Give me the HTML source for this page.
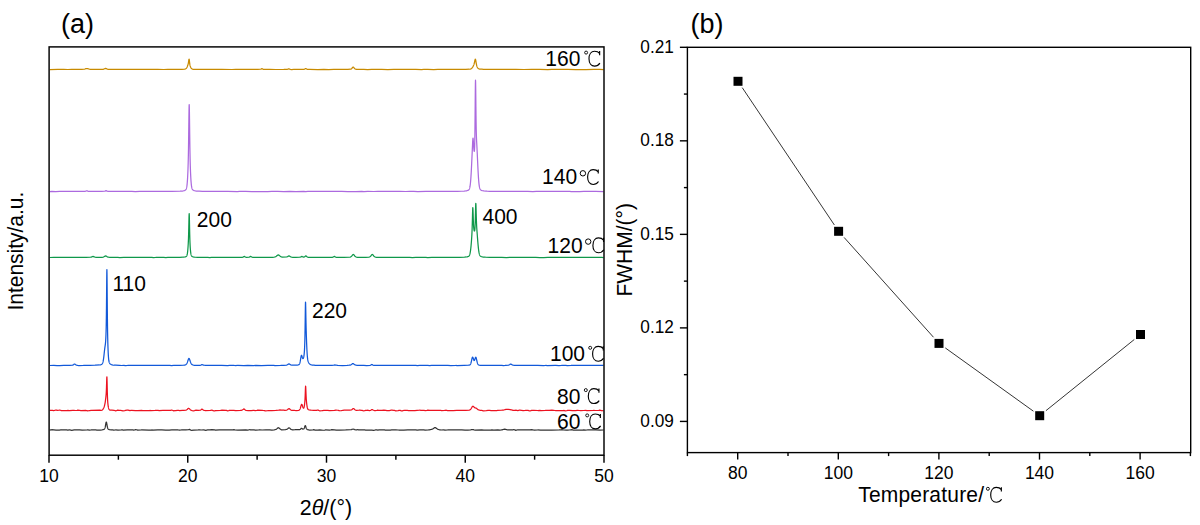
<!DOCTYPE html>
<html><head><meta charset="utf-8"><style>
html,body{margin:0;padding:0;background:#fff;}
svg{display:block;}
text{font-family:"Liberation Sans",sans-serif;fill:#000;}
</style></head><body>
<svg width="1200" height="525" viewBox="0 0 1200 525">
<rect width="1200" height="525" fill="#fff"/>
<!-- panel a -->
<text x="61" y="33" font-size="27">(a)</text>
<g fill="none" stroke-width="1.25" stroke-linejoin="round">
<path d="M49.80,69.55 L57.80,69.45 L63.80,69.44 L67.80,69.50 L71.80,69.45 L77.80,69.41 L81.80,69.42 L84.10,69.25 L84.70,69.08 L85.20,68.91 L85.70,68.72 L86.30,68.55 L86.80,68.50 L87.80,68.67 L88.30,68.85 L88.80,69.02 L89.40,69.19 L90.30,69.34 L95.80,69.44 L103.10,69.29 L103.70,69.14 L104.20,68.95 L104.60,68.77 L105.00,68.59 L105.60,68.45 L106.30,68.63 L106.70,68.81 L107.10,68.99 L107.50,69.14 L108.10,69.29 L110.20,69.45 L113.80,69.49 L117.80,69.49 L123.80,69.45 L127.80,69.48 L131.80,69.49 L139.80,69.43 L143.80,69.48 L147.80,69.44 L157.80,69.44 L163.80,69.50 L167.80,69.45 L175.80,69.41 L181.80,69.32 L184.70,69.17 L185.30,69.01 L185.70,68.82 L186.00,68.61 L186.20,68.43 L186.30,68.33 L186.40,68.21 L186.50,68.08 L186.60,67.94 L186.70,67.78 L186.80,67.61 L186.90,67.43 L187.00,67.23 L187.10,67.02 L187.20,66.79 L187.30,66.56 L187.40,66.31 L187.50,66.05 L187.60,65.78 L187.70,65.50 L187.80,65.20 L187.90,64.89 L188.00,64.56 L188.10,64.19 L188.20,63.79 L188.30,63.33 L188.40,62.81 L188.50,62.22 L188.60,61.57 L188.70,60.88 L188.80,60.21 L188.90,59.62 L189.00,59.24 L189.10,59.17 L189.20,59.46 L189.30,60.06 L189.40,60.85 L189.50,61.72 L189.60,62.57 L189.70,63.36 L189.80,64.05 L189.90,64.66 L190.00,65.18 L190.10,65.62 L190.20,66.00 L190.30,66.33 L190.40,66.62 L190.50,66.88 L190.60,67.12 L190.70,67.34 L190.80,67.54 L190.90,67.73 L191.00,67.89 L191.10,68.05 L191.20,68.19 L191.30,68.31 L191.40,68.43 L191.60,68.62 L191.80,68.77 L192.10,68.95 L192.50,69.11 L193.20,69.27 L196.10,69.42 L199.80,69.45 L201.80,69.45 L205.80,69.37 L211.80,69.44 L217.80,69.40 L221.80,69.46 L231.80,69.50 L235.80,69.42 L239.80,69.45 L243.80,69.45 L253.80,69.47 L257.80,69.43 L260.50,69.25 L260.90,69.09 L261.20,68.93 L261.50,68.78 L261.90,68.68 L262.40,68.84 L262.70,69.00 L263.00,69.15 L263.40,69.30 L265.80,69.42 L269.80,69.46 L275.80,69.50 L283.80,69.43 L287.50,69.26 L288.00,69.10 L288.50,68.93 L288.90,68.86 L289.50,69.03 L289.90,69.20 L290.40,69.36 L291.50,69.51 L293.80,69.47 L295.80,69.47 L303.90,69.31 L304.50,69.15 L304.90,68.95 L305.20,68.77 L305.50,68.60 L305.80,68.54 L306.30,68.72 L306.60,68.92 L306.90,69.09 L307.30,69.27 L308.10,69.42 L309.80,69.45 L317.80,69.51 L323.80,69.45 L328.80,69.53 L333.80,69.47 L341.80,69.46 L347.80,69.38 L350.50,69.23 L351.00,69.06 L351.30,68.90 L351.60,68.67 L351.70,68.58 L351.80,68.48 L351.90,68.37 L352.00,68.25 L352.10,68.13 L352.20,68.01 L352.30,67.87 L352.40,67.74 L352.50,67.61 L352.60,67.48 L352.70,67.35 L352.90,67.15 L353.20,67.03 L353.60,67.26 L353.70,67.37 L353.80,67.50 L353.90,67.63 L354.00,67.77 L354.10,67.90 L354.20,68.04 L354.30,68.17 L354.40,68.29 L354.50,68.41 L354.60,68.52 L354.80,68.71 L355.00,68.87 L355.30,69.06 L355.70,69.22 L356.60,69.37 L363.80,69.44 L367.60,69.59 L371.80,69.45 L377.80,69.46 L381.80,69.47 L387.80,69.51 L393.80,69.47 L397.80,69.46 L403.80,69.46 L411.80,69.49 L415.80,69.41 L421.50,69.56 L423.80,69.42 L427.80,69.45 L433.80,69.51 L437.80,69.47 L445.80,69.48 L449.80,69.45 L455.80,69.47 L465.80,69.40 L469.40,69.24 L470.30,69.06 L470.80,68.89 L471.20,68.68 L471.50,68.47 L471.70,68.30 L471.90,68.10 L472.00,68.00 L472.10,67.89 L472.20,67.77 L472.30,67.64 L472.40,67.51 L472.50,67.37 L472.60,67.22 L472.70,67.06 L472.80,66.90 L472.90,66.73 L473.00,66.55 L473.10,66.37 L473.20,66.18 L473.30,65.98 L473.40,65.77 L473.50,65.55 L473.60,65.32 L473.70,65.08 L473.80,64.82 L473.90,64.54 L474.00,64.23 L474.10,63.90 L474.20,63.55 L474.30,63.16 L474.40,62.75 L474.50,62.31 L474.60,61.85 L474.70,61.38 L474.80,60.90 L474.90,60.43 L475.00,60.00 L475.10,59.64 L475.20,59.36 L475.30,59.22 L475.40,59.23 L475.50,59.40 L475.60,59.72 L475.70,60.16 L475.80,60.68 L475.90,61.27 L476.00,61.88 L476.10,62.49 L476.20,63.08 L476.30,63.64 L476.40,64.17 L476.50,64.65 L476.60,65.09 L476.70,65.49 L476.80,65.85 L476.90,66.17 L477.00,66.46 L477.10,66.71 L477.20,66.95 L477.30,67.16 L477.40,67.35 L477.50,67.52 L477.60,67.68 L477.70,67.83 L477.80,67.97 L477.90,68.08 L478.00,68.19 L478.20,68.39 L478.40,68.55 L478.70,68.74 L479.10,68.92 L479.70,69.08 L481.90,69.24 L483.50,69.39 L489.80,69.49 L491.80,69.49 L495.80,69.47 L499.80,69.43 L503.80,69.46 L511.80,69.46 L515.80,69.47 L523.80,69.50 L531.80,69.43 L539.80,69.46 L547.80,69.51 L551.80,69.47 L555.80,69.48 L567.80,69.48 L575.80,69.51 L579.80,69.50 L585.80,69.50 L593.80,69.42 L599.80,69.48 L603.50,69.54" stroke="#C88A00"/>
<path d="M49.80,191.62 L51.80,191.47 L55.80,191.51 L59.80,191.43 L65.80,191.45 L73.80,191.45 L79.80,191.33 L81.30,191.49 L85.00,191.34 L85.60,191.19 L86.00,191.03 L86.40,190.86 L86.80,190.79 L87.40,190.97 L87.80,191.16 L88.30,191.32 L90.20,191.47 L93.80,191.45 L97.80,191.41 L101.80,191.41 L104.60,191.25 L105.00,191.10 L105.40,190.90 L105.80,190.73 L106.00,190.70 L106.60,190.90 L106.90,191.06 L107.30,191.23 L108.00,191.39 L113.80,191.31 L115.60,191.47 L119.80,191.47 L123.80,191.44 L127.80,191.39 L131.80,191.41 L135.30,191.56 L139.80,191.49 L141.30,191.49 L143.80,191.41 L149.80,191.38 L153.80,191.39 L157.80,191.42 L165.80,191.37 L169.30,191.43 L171.80,191.37 L180.00,191.22 L182.30,191.06 L183.20,190.90 L183.80,190.74 L184.40,190.57 L184.80,190.42 L185.10,190.27 L185.40,190.07 L185.60,189.90 L185.70,189.79 L185.80,189.68 L185.90,189.54 L186.00,189.38 L186.10,189.19 L186.20,188.98 L186.30,188.73 L186.40,188.43 L186.50,188.08 L186.60,187.67 L186.70,187.19 L186.80,186.63 L186.90,185.97 L187.00,185.21 L187.10,184.32 L187.20,183.31 L187.30,182.15 L187.40,180.83 L187.50,179.35 L187.60,177.69 L187.70,175.83 L187.80,173.76 L187.90,171.44 L188.00,168.83 L188.10,165.84 L188.20,162.38 L188.30,158.32 L188.40,153.53 L188.50,147.90 L188.60,141.40 L188.70,134.10 L188.80,126.27 L188.90,118.42 L189.00,111.40 L189.10,106.39 L189.20,104.55 L189.30,106.40 L189.40,111.42 L189.50,118.45 L189.60,126.31 L189.70,134.15 L189.80,141.46 L189.90,147.96 L190.00,153.59 L190.10,158.38 L190.20,162.44 L190.30,165.90 L190.40,168.89 L190.50,171.50 L190.60,173.82 L190.70,175.88 L190.80,177.73 L190.90,179.39 L191.00,180.86 L191.10,182.17 L191.20,183.32 L191.30,184.33 L191.40,185.20 L191.50,185.96 L191.60,186.61 L191.70,187.17 L191.80,187.64 L191.90,188.04 L192.00,188.39 L192.10,188.68 L192.20,188.92 L192.30,189.14 L192.40,189.32 L192.50,189.47 L192.60,189.61 L192.70,189.72 L192.90,189.92 L193.10,190.07 L193.40,190.26 L193.80,190.44 L194.20,190.60 L194.70,190.76 L195.40,190.92 L196.50,191.08 L199.10,191.23 L202.50,191.38 L205.80,191.30 L211.30,191.45 L215.80,191.40 L219.80,191.47 L227.80,191.46 L237.20,191.52 L239.80,191.47 L245.80,191.43 L251.80,191.51 L259.80,191.56 L263.80,191.51 L267.80,191.51 L271.80,191.47 L277.80,191.49 L283.80,191.50 L289.80,191.44 L295.80,191.53 L303.80,191.42 L305.80,191.57 L307.80,191.45 L311.80,191.44 L319.80,191.46 L329.80,191.46 L333.80,191.47 L341.80,191.46 L347.80,191.51 L355.80,191.51 L361.80,191.36 L364.00,191.51 L367.80,191.44 L373.80,191.50 L377.80,191.44 L385.80,191.45 L393.80,191.48 L399.80,191.46 L405.80,191.50 L409.80,191.44 L413.80,191.47 L417.80,191.51 L425.80,191.43 L429.80,191.47 L433.80,191.42 L437.80,191.48 L445.80,191.34 L451.80,191.40 L455.80,191.38 L457.50,191.40 L461.60,191.25 L464.00,191.10 L465.60,190.94 L466.40,190.78 L467.00,190.62 L467.50,190.46 L467.90,190.31 L468.30,190.13 L468.60,189.94 L468.80,189.77 L468.90,189.66 L469.00,189.54 L469.10,189.39 L469.20,189.22 L469.30,189.03 L469.40,188.80 L469.50,188.54 L469.60,188.23 L469.70,187.88 L469.80,187.47 L469.90,187.00 L470.00,186.46 L470.10,185.84 L470.20,185.14 L470.30,184.36 L470.40,183.48 L470.50,182.51 L470.60,181.43 L470.70,180.24 L470.80,178.94 L470.90,177.54 L471.00,176.03 L471.10,174.41 L471.20,172.69 L471.30,170.88 L471.40,168.99 L471.50,167.03 L471.60,165.00 L471.70,162.93 L471.80,160.82 L471.90,158.68 L472.00,156.51 L472.10,154.32 L472.20,152.10 L472.30,149.87 L472.40,147.63 L472.50,145.42 L472.60,143.29 L472.70,141.33 L472.80,139.68 L472.90,138.53 L473.00,138.07 L473.10,138.35 L473.20,139.28 L473.30,140.66 L473.40,142.27 L473.50,143.94 L473.60,145.56 L473.70,147.06 L473.80,148.38 L473.90,149.51 L474.00,150.41 L474.10,151.06 L474.20,151.41 L474.30,151.40 L474.40,150.92 L474.50,149.78 L474.60,147.75 L474.70,144.53 L474.80,139.80 L474.90,133.28 L475.00,124.87 L475.10,114.76 L475.20,103.60 L475.30,92.70 L475.40,84.13 L475.50,80.18 L475.60,81.95 L475.70,88.42 L475.80,97.36 L475.90,106.76 L476.00,115.39 L476.10,122.65 L476.20,128.39 L476.30,132.76 L476.40,136.05 L476.50,138.59 L476.60,140.70 L476.70,142.59 L476.80,144.43 L476.90,146.30 L477.00,148.24 L477.10,150.26 L477.20,152.36 L477.30,154.52 L477.40,156.72 L477.50,158.93 L477.60,161.14 L477.70,163.33 L477.80,165.48 L477.90,167.56 L478.00,169.57 L478.10,171.50 L478.20,173.32 L478.30,175.04 L478.40,176.64 L478.50,178.13 L478.60,179.51 L478.70,180.77 L478.80,181.91 L478.90,182.95 L479.00,183.88 L479.10,184.71 L479.20,185.45 L479.30,186.10 L479.40,186.68 L479.50,187.18 L479.60,187.63 L479.70,188.01 L479.80,188.35 L479.90,188.63 L480.00,188.88 L480.10,189.09 L480.20,189.28 L480.30,189.44 L480.40,189.58 L480.50,189.70 L480.70,189.90 L480.90,190.05 L481.20,190.23 L481.60,190.41 L482.10,190.57 L482.80,190.74 L483.70,190.89 L486.00,191.05 L487.10,191.21 L489.60,191.36 L497.80,191.38 L503.80,191.40 L515.80,191.38 L523.80,191.41 L527.80,191.43 L532.80,191.52 L536.30,191.45 L537.80,191.44 L543.80,191.47 L547.80,191.46 L553.80,191.46 L557.80,191.43 L563.80,191.47 L569.80,191.39 L571.10,191.55 L573.80,191.53 L579.80,191.51 L583.80,191.41 L587.80,191.48 L595.80,191.43 L603.50,191.54" stroke="#AC6ADF"/>
<path d="M49.80,257.50 L53.80,257.45 L59.80,257.48 L65.80,257.49 L71.80,257.49 L75.80,257.44 L85.80,257.39 L90.70,257.22 L91.30,257.05 L91.70,256.89 L92.10,256.72 L92.50,256.57 L93.00,256.48 L93.70,256.65 L94.10,256.81 L94.50,256.96 L95.10,257.13 L96.10,257.29 L99.80,257.43 L102.60,257.27 L103.20,257.11 L103.60,256.95 L104.00,256.76 L104.30,256.58 L104.60,256.39 L104.90,256.21 L105.20,256.05 L105.60,255.97 L106.20,256.14 L106.50,256.32 L106.80,256.50 L107.10,256.67 L107.50,256.86 L108.00,257.05 L108.60,257.21 L109.70,257.36 L111.80,257.34 L115.20,257.49 L117.80,257.37 L119.80,257.53 L123.80,257.48 L137.80,257.45 L141.80,257.46 L145.80,257.40 L149.20,257.44 L151.80,257.39 L153.40,257.55 L155.60,257.39 L155.80,257.37 L159.80,257.46 L163.80,257.39 L165.80,257.54 L167.80,257.45 L171.80,257.44 L173.30,257.48 L175.80,257.39 L179.80,257.40 L182.80,257.24 L183.60,257.08 L185.10,256.92 L185.70,256.77 L186.00,256.62 L186.30,256.39 L186.40,256.29 L186.50,256.17 L186.60,256.03 L186.70,255.86 L186.80,255.66 L186.90,255.42 L187.00,255.13 L187.10,254.79 L187.20,254.38 L187.30,253.89 L187.40,253.31 L187.50,252.64 L187.60,251.86 L187.70,250.96 L187.80,249.95 L187.90,248.80 L188.00,247.51 L188.10,246.07 L188.20,244.46 L188.30,242.61 L188.40,240.46 L188.50,237.90 L188.60,234.81 L188.70,231.13 L188.80,226.90 L188.90,222.34 L189.00,217.98 L189.10,214.72 L189.20,213.66 L189.30,215.34 L189.40,219.19 L189.50,224.04 L189.60,228.99 L189.70,233.50 L189.80,237.35 L189.90,240.51 L190.00,243.06 L190.10,245.14 L190.20,246.86 L190.30,248.32 L190.40,249.57 L190.50,250.66 L190.60,251.60 L190.70,252.41 L190.80,253.11 L190.90,253.71 L191.00,254.22 L191.10,254.64 L191.20,255.00 L191.30,255.30 L191.40,255.54 L191.50,255.75 L191.60,255.93 L191.70,256.07 L191.80,256.20 L192.00,256.39 L192.30,256.59 L192.70,256.77 L193.20,256.92 L194.00,257.08 L194.90,257.25 L197.80,257.38 L207.80,257.43 L209.80,257.58 L211.40,257.43 L213.80,257.30 L215.60,257.46 L217.80,257.48 L221.80,257.48 L229.10,257.49 L229.80,257.47 L237.80,257.43 L242.60,257.26 L243.00,257.09 L243.30,256.91 L243.60,256.71 L243.90,256.52 L244.20,256.44 L244.70,256.62 L245.00,256.81 L245.30,256.98 L245.70,257.14 L246.40,257.31 L249.20,257.14 L249.60,256.94 L249.90,256.74 L250.20,256.56 L250.60,256.43 L251.10,256.61 L251.40,256.81 L251.70,256.98 L252.10,257.16 L252.90,257.32 L256.50,257.47 L261.80,257.40 L265.80,257.46 L272.70,257.31 L274.10,257.16 L274.80,256.99 L275.30,256.81 L275.70,256.62 L276.00,256.43 L276.30,256.22 L276.50,256.06 L276.70,255.90 L276.90,255.73 L277.10,255.56 L277.30,255.40 L277.50,255.24 L277.80,255.05 L278.30,254.94 L278.80,255.10 L279.10,255.29 L279.30,255.44 L279.50,255.61 L279.70,255.78 L279.90,255.95 L280.10,256.11 L280.30,256.26 L280.60,256.47 L280.90,256.65 L281.20,256.80 L281.60,256.97 L282.20,257.13 L286.80,256.94 L287.20,256.77 L287.50,256.60 L287.80,256.42 L288.10,256.22 L288.40,256.05 L288.90,255.91 L289.50,256.10 L289.80,256.28 L290.10,256.48 L290.40,256.66 L290.70,256.82 L291.10,256.99 L291.70,257.16 L292.90,257.32 L295.80,257.37 L299.80,257.22 L300.50,257.05 L300.90,256.85 L301.20,256.67 L301.50,256.50 L301.80,256.44 L302.30,256.61 L302.60,256.79 L302.90,256.95 L303.40,257.10 L304.40,256.93 L304.70,256.72 L304.90,256.55 L305.10,256.36 L305.30,256.17 L305.50,256.00 L305.80,255.89 L306.20,256.07 L306.40,256.25 L306.60,256.44 L306.80,256.62 L307.00,256.78 L307.30,256.96 L307.70,257.11 L308.40,257.27 L309.80,257.42 L313.80,257.43 L317.80,257.45 L321.80,257.43 L325.80,257.46 L332.30,257.31 L332.90,257.13 L333.30,256.92 L333.60,256.73 L333.90,256.53 L334.30,256.42 L334.80,256.61 L335.10,256.81 L335.40,256.99 L335.80,257.18 L336.50,257.33 L343.80,257.41 L349.40,257.25 L350.20,257.07 L350.60,256.92 L350.90,256.76 L351.20,256.55 L351.40,256.38 L351.50,256.29 L351.60,256.19 L351.70,256.08 L351.80,255.97 L351.90,255.85 L352.00,255.72 L352.10,255.60 L352.20,255.47 L352.30,255.34 L352.40,255.21 L352.50,255.08 L352.60,254.96 L352.70,254.84 L352.90,254.64 L353.20,254.48 L353.30,254.47 L353.70,254.64 L353.80,254.73 L353.90,254.84 L354.00,254.96 L354.10,255.09 L354.20,255.22 L354.30,255.35 L354.40,255.49 L354.50,255.62 L354.60,255.75 L354.70,255.87 L354.80,255.99 L354.90,256.11 L355.00,256.22 L355.20,256.42 L355.40,256.60 L355.70,256.81 L356.00,256.97 L356.50,257.14 L357.50,257.30 L359.80,257.34 L365.80,257.35 L369.00,257.18 L369.50,257.02 L369.90,256.81 L370.20,256.59 L370.40,256.42 L370.50,256.32 L370.60,256.22 L370.70,256.11 L370.80,255.99 L370.90,255.87 L371.00,255.74 L371.10,255.61 L371.20,255.48 L371.30,255.34 L371.40,255.21 L371.50,255.08 L371.60,254.95 L371.70,254.83 L371.90,254.63 L372.20,254.47 L372.30,254.46 L372.70,254.65 L372.80,254.74 L372.90,254.85 L373.00,254.97 L373.10,255.09 L373.20,255.22 L373.30,255.36 L373.40,255.49 L373.50,255.62 L373.60,255.75 L373.70,255.87 L373.80,255.99 L373.90,256.11 L374.00,256.22 L374.20,256.41 L374.40,256.58 L374.70,256.80 L375.00,256.96 L375.40,257.11 L376.20,257.26 L379.70,257.42 L383.80,257.38 L391.80,257.42 L395.80,257.45 L403.80,257.46 L409.80,257.45 L412.30,257.51 L415.80,257.48 L419.80,257.49 L425.80,257.37 L427.70,257.53 L431.80,257.47 L435.80,257.39 L439.80,257.43 L445.80,257.47 L449.80,257.42 L455.80,257.40 L459.80,257.31 L464.50,257.15 L466.50,256.99 L467.20,256.84 L467.80,256.66 L468.30,256.50 L468.60,256.34 L468.80,256.19 L468.90,256.10 L469.00,255.99 L469.10,255.87 L469.20,255.73 L469.30,255.56 L469.40,255.38 L469.50,255.16 L469.60,254.92 L469.70,254.64 L469.80,254.32 L469.90,253.96 L470.00,253.55 L470.10,253.09 L470.20,252.58 L470.30,252.01 L470.40,251.39 L470.50,250.70 L470.60,249.96 L470.70,249.15 L470.80,248.27 L470.90,247.33 L471.00,246.33 L471.10,245.27 L471.20,244.14 L471.30,242.96 L471.40,241.72 L471.50,240.41 L471.60,239.02 L471.70,237.54 L471.80,235.92 L471.90,234.10 L472.00,232.00 L472.10,229.53 L472.20,226.62 L472.30,223.25 L472.40,219.48 L472.50,215.52 L472.60,211.78 L472.70,208.90 L472.80,207.59 L472.90,208.18 L473.00,210.33 L473.10,213.35 L473.20,216.58 L473.30,219.62 L473.40,222.26 L473.50,224.43 L473.60,226.15 L473.70,227.47 L473.80,228.49 L473.90,229.28 L474.00,229.90 L474.10,230.37 L474.20,230.72 L474.30,230.95 L474.50,231.03 L474.60,230.85 L474.70,230.47 L474.80,229.83 L474.90,228.86 L475.00,227.46 L475.10,225.52 L475.20,222.95 L475.30,219.73 L475.40,215.93 L475.50,211.79 L475.60,207.80 L475.70,204.71 L475.80,203.34 L475.90,204.10 L476.00,206.62 L476.10,210.10 L476.20,213.84 L476.30,217.36 L476.40,220.46 L476.50,223.08 L476.60,225.24 L476.70,227.05 L476.80,228.61 L476.90,230.02 L477.00,231.35 L477.10,232.65 L477.20,233.95 L477.30,235.24 L477.40,236.54 L477.50,237.83 L477.60,239.11 L477.70,240.38 L477.80,241.61 L477.90,242.82 L478.00,243.97 L478.10,245.09 L478.20,246.14 L478.30,247.14 L478.40,248.08 L478.50,248.96 L478.60,249.77 L478.70,250.52 L478.80,251.21 L478.90,251.84 L479.00,252.41 L479.10,252.93 L479.20,253.39 L479.30,253.80 L479.40,254.17 L479.50,254.50 L479.60,254.78 L479.70,255.04 L479.80,255.26 L479.90,255.45 L480.00,255.62 L480.10,255.77 L480.20,255.90 L480.40,256.11 L480.60,256.26 L480.90,256.44 L481.30,256.59 L481.90,256.74 L482.50,256.90 L483.20,257.05 L485.50,257.20 L489.60,257.35 L493.80,257.34 L497.80,257.43 L501.80,257.37 L506.30,257.52 L511.80,257.44 L519.80,257.41 L525.80,257.48 L529.80,257.44 L535.80,257.49 L539.80,257.51 L543.80,257.51 L547.80,257.48 L553.80,257.48 L557.80,257.46 L561.80,257.46 L575.80,257.45 L581.80,257.45 L587.80,257.45 L591.80,257.43 L597.80,257.42 L601.80,257.43 L603.50,257.52" stroke="#0F984A"/>
<path d="M49.80,365.50 L53.80,365.46 L57.00,365.55 L59.80,365.52 L63.80,365.41 L69.80,365.38 L72.40,365.21 L72.90,365.04 L73.20,364.88 L73.50,364.67 L73.70,364.52 L73.90,364.36 L74.10,364.20 L74.40,364.04 L74.60,364.01 L75.10,364.21 L75.30,364.36 L75.50,364.53 L75.70,364.69 L76.00,364.90 L76.30,365.07 L76.70,365.22 L77.50,365.38 L78.90,365.53 L83.30,365.37 L83.80,365.32 L89.80,365.39 L95.00,365.23 L95.80,365.14 L99.60,364.99 L100.40,364.82 L101.00,364.64 L101.40,364.47 L101.70,364.30 L102.00,364.06 L102.10,363.96 L102.20,363.84 L102.30,363.70 L102.40,363.54 L102.50,363.36 L102.60,363.14 L102.70,362.89 L102.80,362.60 L102.90,362.27 L103.00,361.89 L103.10,361.46 L103.20,360.97 L103.30,360.43 L103.40,359.83 L103.50,359.18 L103.60,358.47 L103.70,357.70 L103.80,356.89 L103.90,356.04 L104.00,355.15 L104.10,354.23 L104.20,353.30 L104.30,352.37 L104.40,351.45 L104.50,350.55 L104.60,349.69 L104.70,348.88 L104.80,348.11 L104.90,347.39 L105.00,346.71 L105.10,346.05 L105.20,345.37 L105.30,344.65 L105.40,343.82 L105.50,342.85 L105.60,341.69 L105.70,340.29 L105.80,338.59 L105.90,336.54 L106.00,334.02 L106.10,330.87 L106.20,326.78 L106.30,321.34 L106.40,314.12 L106.50,304.89 L106.60,293.93 L106.70,282.46 L106.80,273.09 L106.90,269.55 L107.00,273.90 L107.10,284.09 L107.20,296.40 L107.30,308.20 L107.40,318.28 L107.50,326.37 L107.60,332.69 L107.70,337.68 L107.80,341.73 L107.90,345.12 L108.00,348.04 L108.10,350.56 L108.20,352.75 L108.30,354.62 L108.40,356.22 L108.50,357.56 L108.60,358.68 L108.70,359.60 L108.80,360.36 L108.90,360.99 L109.00,361.50 L109.10,361.92 L109.20,362.27 L109.30,362.56 L109.40,362.80 L109.50,363.00 L109.60,363.18 L109.70,363.33 L109.80,363.47 L109.90,363.59 L110.00,363.71 L110.20,363.90 L110.40,364.06 L110.70,364.27 L111.00,364.43 L111.40,364.60 L111.90,364.78 L112.40,364.93 L113.00,365.08 L113.80,365.24 L115.80,365.19 L119.40,365.34 L121.60,365.50 L123.80,365.38 L125.50,365.54 L127.50,365.39 L127.80,365.36 L129.10,365.37 L133.80,365.40 L142.90,365.47 L143.80,365.47 L149.80,365.47 L153.80,365.42 L161.80,365.44 L169.80,365.39 L171.50,365.55 L173.80,365.41 L179.80,365.37 L183.70,365.21 L184.70,365.05 L185.30,364.88 L185.70,364.69 L186.00,364.48 L186.20,364.30 L186.30,364.19 L186.40,364.07 L186.50,363.95 L186.60,363.81 L186.70,363.65 L186.80,363.48 L186.90,363.30 L187.00,363.11 L187.10,362.90 L187.20,362.67 L187.30,362.43 L187.40,362.17 L187.50,361.91 L187.60,361.62 L187.70,361.33 L187.80,361.03 L187.90,360.73 L188.00,360.43 L188.10,360.13 L188.20,359.84 L188.30,359.56 L188.40,359.29 L188.50,359.05 L188.60,358.85 L188.70,358.68 L188.90,358.48 L189.00,358.46 L189.20,358.57 L189.30,358.71 L189.40,358.89 L189.50,359.11 L189.60,359.36 L189.70,359.64 L189.80,359.93 L189.90,360.23 L190.00,360.54 L190.10,360.85 L190.20,361.16 L190.30,361.46 L190.40,361.75 L190.50,362.02 L190.60,362.29 L190.70,362.54 L190.80,362.78 L190.90,363.00 L191.00,363.21 L191.10,363.40 L191.20,363.58 L191.30,363.75 L191.40,363.90 L191.50,364.04 L191.60,364.16 L191.70,364.28 L191.90,364.47 L192.10,364.62 L192.40,364.79 L192.80,364.95 L193.50,365.11 L194.60,365.26 L196.60,365.42 L200.40,365.26 L200.90,365.09 L201.20,364.94 L201.50,364.76 L201.90,364.60 L202.10,364.57 L202.60,364.74 L202.90,364.90 L203.30,365.06 L204.10,365.22 L205.40,365.38 L207.80,365.25 L208.90,365.41 L211.80,365.48 L217.70,365.33 L217.80,365.32 L219.00,365.48 L221.80,365.38 L227.50,365.53 L229.80,365.45 L233.80,365.34 L234.90,365.50 L237.80,365.49 L243.80,365.51 L247.80,365.42 L253.50,365.57 L255.80,365.48 L261.50,365.53 L267.80,365.44 L273.80,365.47 L275.00,365.63 L280.60,365.48 L283.40,365.32 L283.80,365.29 L286.50,365.13 L286.90,364.97 L287.20,364.81 L287.50,364.62 L287.80,364.41 L288.10,364.22 L288.40,364.04 L288.90,363.91 L289.50,364.09 L289.80,364.27 L290.10,364.47 L290.40,364.67 L290.70,364.83 L291.10,365.01 L291.70,365.18 L297.20,365.02 L298.20,364.85 L298.80,364.66 L299.10,364.44 L299.20,364.34 L299.30,364.22 L299.40,364.07 L299.50,363.90 L299.60,363.69 L299.70,363.44 L299.80,363.16 L299.90,362.81 L300.00,362.42 L300.10,361.99 L300.20,361.50 L300.30,360.97 L300.40,360.41 L300.50,359.81 L300.60,359.19 L300.70,358.56 L300.80,357.94 L300.90,357.34 L301.00,356.78 L301.10,356.29 L301.20,355.88 L301.30,355.58 L301.40,355.38 L301.50,355.31 L301.60,355.35 L301.70,355.49 L301.80,355.71 L301.90,355.99 L302.00,356.32 L302.10,356.67 L302.20,357.02 L302.30,357.36 L302.40,357.67 L302.50,357.95 L302.60,358.18 L302.70,358.37 L302.90,358.58 L303.20,358.49 L303.30,358.35 L303.40,358.15 L303.50,357.89 L303.60,357.56 L303.70,357.17 L303.80,356.69 L303.90,356.13 L304.00,355.45 L304.10,354.64 L304.20,353.68 L304.30,352.54 L304.40,351.19 L304.50,349.59 L304.60,347.67 L304.70,345.32 L304.80,342.36 L304.90,338.55 L305.00,333.63 L305.10,327.46 L305.20,320.19 L305.30,312.46 L305.40,305.74 L305.50,302.11 L305.60,302.80 L305.70,306.80 L305.80,312.23 L305.90,317.73 L306.00,322.72 L306.10,327.03 L306.20,330.74 L306.30,334.03 L306.40,337.04 L306.50,339.85 L306.60,342.50 L306.70,344.99 L306.80,347.30 L306.90,349.41 L307.00,351.31 L307.10,353.01 L307.20,354.50 L307.30,355.79 L307.40,356.91 L307.50,357.86 L307.60,358.67 L307.70,359.36 L307.80,359.94 L307.90,360.44 L308.00,360.87 L308.10,361.24 L308.20,361.56 L308.30,361.85 L308.40,362.10 L308.50,362.33 L308.60,362.54 L308.70,362.73 L308.80,362.90 L308.90,363.06 L309.00,363.21 L309.10,363.35 L309.20,363.48 L309.30,363.59 L309.40,363.70 L309.60,363.90 L309.80,364.08 L310.00,364.23 L310.30,364.42 L310.60,364.58 L311.00,364.75 L311.50,364.90 L312.30,365.05 L314.00,365.21 L315.20,365.37 L317.80,365.36 L323.80,365.38 L327.80,365.44 L331.80,365.36 L333.90,365.18 L334.30,365.02 L334.80,364.92 L335.60,365.07 L336.30,365.24 L337.70,365.39 L342.60,365.55 L347.10,365.40 L349.10,365.24 L350.30,365.07 L350.80,364.90 L351.10,364.75 L351.40,364.56 L351.70,364.34 L351.90,364.17 L352.10,363.99 L352.30,363.83 L352.60,363.63 L352.90,363.56 L353.40,363.72 L353.70,363.94 L353.90,364.10 L354.10,364.26 L354.30,364.41 L354.60,364.62 L354.90,364.78 L355.30,364.95 L355.90,365.10 L356.60,365.26 L357.70,365.42 L359.80,365.35 L363.80,365.36 L366.60,365.52 L370.00,365.37 L370.60,365.20 L371.00,365.00 L371.30,364.80 L371.60,364.61 L371.90,364.50 L372.40,364.67 L372.70,364.89 L373.00,365.11 L373.30,365.29 L373.70,365.47 L375.80,365.42 L379.80,365.46 L383.80,365.47 L387.80,365.47 L395.80,365.42 L399.80,365.31 L401.50,365.47 L407.80,365.49 L411.80,365.47 L415.80,365.37 L417.30,365.52 L419.80,365.43 L423.80,365.46 L424.60,365.46 L427.80,365.43 L429.60,365.59 L431.60,365.43 L433.80,365.40 L441.80,365.42 L447.80,365.41 L450.80,365.54 L455.70,365.39 L455.80,365.38 L457.10,365.54 L464.20,365.39 L468.50,365.24 L469.50,365.06 L469.90,364.85 L470.10,364.67 L470.20,364.56 L470.30,364.43 L470.40,364.28 L470.50,364.11 L470.60,363.91 L470.70,363.68 L470.80,363.43 L470.90,363.14 L471.00,362.83 L471.10,362.48 L471.20,362.11 L471.30,361.71 L471.40,361.28 L471.50,360.84 L471.60,360.38 L471.70,359.92 L471.80,359.45 L471.90,359.01 L472.00,358.59 L472.10,358.20 L472.20,357.85 L472.30,357.56 L472.40,357.34 L472.60,357.13 L472.80,357.24 L472.90,357.40 L473.00,357.63 L473.10,357.91 L473.20,358.22 L473.30,358.55 L473.40,358.89 L473.50,359.22 L473.60,359.53 L473.70,359.81 L473.80,360.06 L473.90,360.26 L474.10,360.50 L474.40,360.42 L474.50,360.28 L474.60,360.09 L474.70,359.85 L474.80,359.58 L474.90,359.27 L475.00,358.95 L475.10,358.62 L475.20,358.30 L475.30,358.00 L475.40,357.73 L475.50,357.51 L475.60,357.35 L475.80,357.25 L475.90,357.32 L476.00,357.47 L476.10,357.69 L476.20,357.98 L476.30,358.33 L476.40,358.72 L476.50,359.14 L476.60,359.59 L476.70,360.05 L476.80,360.50 L476.90,360.95 L477.00,361.39 L477.10,361.81 L477.20,362.20 L477.30,362.57 L477.40,362.91 L477.50,363.21 L477.60,363.49 L477.70,363.74 L477.80,363.96 L477.90,364.15 L478.00,364.32 L478.10,364.47 L478.20,364.59 L478.40,364.78 L478.70,364.98 L479.20,365.14 L480.30,365.30 L481.80,365.45 L489.80,365.32 L491.30,365.48 L495.80,365.45 L501.80,365.42 L503.50,365.57 L505.00,365.42 L505.80,365.29 L508.70,365.11 L509.10,364.93 L509.40,364.76 L509.70,364.58 L510.00,364.39 L510.30,364.23 L510.80,364.11 L511.40,364.31 L511.70,364.50 L512.00,364.69 L512.30,364.86 L512.70,365.04 L513.20,365.20 L514.20,365.36 L517.80,365.38 L521.80,365.31 L524.80,365.47 L529.80,365.46 L533.80,365.37 L537.80,365.47 L543.40,365.62 L545.40,365.46 L545.80,365.41 L547.40,365.57 L555.20,365.42 L555.80,365.40 L558.90,365.56 L561.40,365.39 L561.80,365.33 L563.30,365.48 L565.80,365.44 L567.30,365.60 L571.00,365.45 L571.80,365.39 L579.80,365.42 L583.80,365.46 L591.80,365.45 L597.80,365.43 L603.50,365.48" stroke="#1259D9"/>
<path d="M49.80,410.26 L52.60,410.42 L53.50,410.58 L54.50,410.43 L55.10,410.25 L55.70,410.07 L55.80,410.04 L56.50,410.19 L57.20,410.34 L59.20,410.17 L59.80,410.05 L60.30,410.22 L60.80,410.38 L61.30,410.55 L61.80,410.72 L63.50,410.56 L63.80,410.54 L65.20,410.70 L67.00,410.54 L67.80,410.39 L69.50,410.55 L72.70,410.39 L73.80,410.34 L75.60,410.50 L77.00,410.35 L77.80,410.24 L79.50,410.39 L81.00,410.54 L85.80,410.40 L86.40,410.55 L87.00,410.71 L87.60,410.86 L88.80,410.70 L89.50,410.54 L91.10,410.39 L91.80,410.34 L99.80,410.19 L101.00,410.35 L102.10,410.13 L102.30,409.97 L102.50,409.78 L102.60,409.68 L102.70,409.56 L102.80,409.44 L102.90,409.31 L103.00,409.17 L103.10,409.02 L103.20,408.85 L103.30,408.68 L103.40,408.50 L103.50,408.30 L103.60,408.09 L103.70,407.87 L103.80,407.64 L103.90,407.42 L104.00,407.18 L104.10,406.92 L104.20,406.64 L104.30,406.34 L104.40,406.02 L104.50,405.68 L104.60,405.31 L104.70,404.90 L104.80,404.46 L104.90,403.98 L105.00,403.47 L105.10,402.90 L105.20,402.30 L105.30,401.64 L105.40,400.94 L105.50,400.20 L105.60,399.41 L105.70,398.58 L105.80,397.71 L105.90,396.81 L106.00,395.84 L106.10,394.76 L106.20,393.48 L106.30,391.84 L106.40,389.70 L106.50,386.95 L106.60,383.66 L106.70,380.21 L106.80,377.49 L106.90,376.76 L107.00,378.73 L107.10,382.63 L107.20,387.16 L107.30,391.39 L107.40,394.92 L107.50,397.67 L107.60,399.76 L107.70,401.36 L107.80,402.62 L107.90,403.67 L108.00,404.57 L108.10,405.35 L108.20,406.04 L108.30,406.64 L108.40,407.17 L108.50,407.63 L108.60,408.02 L108.70,408.36 L108.80,408.66 L108.90,408.91 L109.00,409.12 L109.10,409.31 L109.20,409.47 L109.30,409.60 L109.40,409.72 L109.60,409.91 L109.80,410.07 L111.80,410.12 L114.10,410.30 L114.60,410.48 L115.10,410.65 L115.60,410.82 L116.40,410.66 L116.80,410.51 L117.20,410.36 L117.60,410.21 L117.80,410.13 L119.10,410.29 L120.50,410.45 L121.90,410.61 L122.90,410.78 L124.80,410.61 L125.30,410.45 L125.80,410.29 L126.90,410.13 L127.80,410.00 L128.30,410.15 L128.80,410.31 L129.30,410.46 L129.80,410.62 L131.10,410.46 L131.80,410.38 L135.30,410.54 L137.80,410.53 L141.80,410.41 L142.70,410.56 L143.60,410.72 L147.40,410.56 L149.70,410.41 L149.80,410.40 L151.10,410.56 L155.00,410.41 L155.80,410.29 L158.10,410.45 L159.10,410.60 L162.90,410.45 L163.80,410.43 L167.80,410.48 L170.60,410.33 L171.40,410.18 L171.80,410.10 L172.30,410.28 L172.80,410.47 L173.30,410.65 L173.80,410.83 L174.80,410.68 L175.80,410.52 L177.20,410.36 L177.80,410.29 L178.70,410.46 L179.60,410.62 L182.30,410.46 L183.80,410.36 L186.00,410.19 L186.40,410.02 L186.70,409.83 L187.00,409.60 L187.20,409.43 L187.40,409.24 L187.60,409.04 L187.80,408.86 L187.90,408.74 L188.10,408.55 L188.40,408.36 L188.60,408.32 L189.10,408.54 L189.30,408.70 L189.50,408.88 L189.70,409.07 L189.80,409.16 L189.90,409.27 L190.00,409.38 L190.20,409.58 L190.40,409.76 L190.60,409.92 L190.90,410.13 L191.20,410.29 L191.60,410.45 L192.20,410.61 L193.30,410.76 L194.50,410.61 L195.10,410.43 L195.60,410.28 L195.80,410.22 L198.20,410.37 L200.50,410.19 L200.80,409.99 L201.00,409.84 L201.20,409.66 L201.40,409.48 L201.60,409.31 L201.90,409.16 L202.40,409.35 L202.60,409.50 L202.80,409.66 L203.00,409.82 L203.30,410.01 L203.60,410.17 L204.00,410.32 L204.60,410.48 L205.40,410.64 L210.30,410.48 L211.00,410.30 L211.70,410.13 L211.80,410.11 L212.20,410.28 L212.60,410.45 L213.00,410.62 L213.40,410.79 L213.80,410.96 L214.70,410.80 L215.60,410.64 L215.80,410.60 L220.50,410.44 L221.20,410.28 L221.80,410.15 L226.00,410.31 L226.50,410.47 L227.00,410.63 L227.50,410.78 L228.70,410.63 L229.30,410.46 L229.80,410.33 L233.80,410.44 L235.70,410.59 L240.30,410.43 L241.20,410.27 L241.90,410.10 L242.30,409.94 L242.60,409.79 L242.90,409.59 L243.10,409.44 L243.30,409.28 L243.50,409.11 L243.80,408.90 L244.30,409.11 L244.50,409.28 L244.70,409.48 L244.90,409.67 L245.10,409.86 L245.30,410.02 L245.60,410.23 L246.00,410.39 L248.10,410.55 L249.50,410.70 L251.20,410.55 L253.30,410.39 L253.80,410.37 L255.30,410.52 L256.90,410.36 L257.70,410.20 L257.80,410.18 L262.20,410.34 L263.40,410.50 L264.40,410.66 L265.30,410.82 L267.60,410.67 L267.80,410.64 L271.80,410.53 L275.80,410.39 L278.70,410.21 L279.40,410.06 L279.80,409.97 L281.20,410.13 L283.80,410.13 L284.80,410.30 L286.70,410.11 L287.00,409.96 L287.30,409.76 L287.50,409.61 L287.70,409.45 L287.90,409.28 L288.10,409.11 L288.30,408.96 L288.60,408.76 L289.00,408.66 L289.50,408.86 L289.70,409.02 L289.90,409.19 L290.10,409.37 L290.30,409.55 L290.50,409.72 L290.70,409.87 L291.00,410.07 L291.30,410.23 L291.70,410.39 L293.80,410.26 L294.80,410.41 L296.10,410.56 L298.60,410.38 L299.00,410.19 L299.30,409.97 L299.40,409.88 L299.50,409.77 L299.60,409.64 L299.70,409.50 L299.80,409.34 L299.90,409.18 L300.00,409.00 L300.10,408.79 L300.20,408.55 L300.30,408.29 L300.40,408.00 L300.50,407.69 L300.60,407.36 L300.70,407.01 L300.80,406.65 L300.90,406.28 L301.00,405.91 L301.10,405.56 L301.20,405.24 L301.30,404.95 L301.40,404.70 L301.50,404.52 L301.70,404.36 L301.90,404.48 L302.00,404.63 L302.10,404.84 L302.20,405.09 L302.30,405.38 L302.40,405.69 L302.50,406.02 L302.60,406.34 L302.70,406.66 L302.80,406.95 L302.90,407.23 L303.00,407.47 L303.10,407.69 L303.20,407.86 L303.40,408.07 L303.70,408.02 L303.80,407.88 L303.90,407.68 L304.00,407.41 L304.10,407.06 L304.20,406.64 L304.30,406.14 L304.40,405.56 L304.50,404.89 L304.60,404.12 L304.70,403.24 L304.80,402.21 L304.90,400.97 L305.00,399.44 L305.10,397.52 L305.20,395.16 L305.30,392.44 L305.40,389.60 L305.50,387.23 L305.60,386.16 L305.70,386.84 L305.80,388.84 L305.90,391.39 L306.00,393.89 L306.10,396.10 L306.20,397.93 L306.30,399.44 L306.40,400.71 L306.50,401.80 L306.60,402.79 L306.70,403.68 L306.80,404.50 L306.90,405.25 L307.00,405.93 L307.10,406.54 L307.20,407.08 L307.30,407.55 L307.40,407.96 L307.50,408.31 L307.60,408.61 L307.70,408.87 L307.80,409.08 L307.90,409.24 L308.00,409.37 L308.20,409.56 L308.50,409.74 L309.10,409.91 L310.20,410.08 L311.10,410.24 L313.80,410.30 L315.40,410.46 L316.60,410.31 L317.30,410.14 L317.80,410.02 L318.20,410.19 L318.60,410.36 L319.00,410.54 L319.40,410.71 L319.80,410.88 L321.90,410.73 L322.80,410.57 L323.70,410.42 L325.80,410.30 L327.50,410.45 L329.70,410.61 L334.30,410.44 L335.00,410.28 L335.70,410.11 L335.80,410.09 L337.70,410.25 L338.40,410.40 L339.10,410.57 L339.80,410.75 L341.20,410.59 L342.30,410.43 L343.20,410.27 L343.80,410.16 L347.80,410.13 L349.80,410.09 L351.40,409.92 L351.80,409.73 L352.00,409.55 L352.10,409.45 L352.20,409.35 L352.30,409.25 L352.50,409.05 L352.70,408.86 L352.90,408.70 L353.20,408.55 L353.40,408.52 L353.90,408.72 L354.10,408.90 L354.20,409.00 L354.30,409.10 L354.50,409.30 L354.70,409.50 L354.90,409.68 L355.10,409.84 L355.40,410.06 L355.70,410.24 L356.40,410.40 L359.10,410.24 L359.80,410.13 L361.40,410.29 L362.20,410.45 L362.70,410.60 L363.20,410.75 L363.70,410.90 L364.40,410.75 L364.90,410.59 L365.40,410.44 L366.60,410.29 L367.80,410.24 L368.50,410.39 L369.30,410.55 L370.50,410.39 L370.80,410.23 L371.10,410.03 L371.30,409.88 L371.50,409.73 L371.80,409.54 L372.00,409.51 L372.50,409.69 L372.80,409.88 L373.10,410.05 L373.50,410.23 L374.00,410.38 L374.60,410.53 L375.40,410.69 L376.60,410.50 L377.10,410.34 L377.60,410.18 L377.80,410.12 L378.50,410.28 L379.20,410.44 L381.80,410.28 L383.80,410.21 L386.00,410.37 L386.80,410.53 L387.60,410.69 L389.30,410.53 L390.30,410.38 L391.20,410.23 L391.80,410.12 L393.90,410.30 L394.50,410.46 L395.10,410.62 L395.70,410.78 L398.20,410.62 L398.90,410.47 L399.60,410.32 L399.80,410.27 L400.30,410.45 L400.80,410.63 L401.30,410.81 L401.80,410.99 L402.40,410.82 L403.00,410.65 L403.60,410.48 L405.00,410.32 L405.80,410.25 L407.20,410.41 L408.60,410.56 L410.10,410.71 L414.90,410.55 L417.00,410.39 L419.40,410.24 L419.80,410.20 L420.90,410.36 L423.80,410.38 L425.60,410.53 L426.90,410.38 L427.80,410.24 L429.80,410.39 L433.80,410.25 L439.80,410.25 L440.70,410.41 L441.60,410.57 L444.50,410.41 L445.60,410.25 L445.80,410.22 L446.70,410.39 L447.60,410.56 L449.80,410.55 L451.10,410.70 L453.20,410.55 L456.70,410.40 L457.80,410.34 L459.70,410.49 L465.80,410.37 L469.30,410.20 L469.70,410.03 L470.00,409.85 L470.30,409.62 L470.40,409.53 L470.50,409.42 L470.60,409.31 L470.70,409.20 L470.80,409.07 L470.90,408.93 L471.00,408.79 L471.10,408.64 L471.20,408.48 L471.30,408.32 L471.40,408.15 L471.50,407.98 L471.60,407.81 L471.70,407.64 L471.80,407.47 L471.90,407.30 L472.00,407.12 L472.10,406.96 L472.20,406.81 L472.30,406.67 L472.40,406.55 L472.60,406.36 L472.90,406.24 L473.40,406.44 L473.60,406.61 L473.80,406.80 L473.90,406.92 L474.00,407.04 L474.10,407.15 L474.20,407.26 L474.40,407.46 L474.60,407.62 L474.90,407.79 L475.40,407.94 L476.00,408.10 L476.40,408.29 L476.70,408.51 L476.90,408.68 L477.10,408.86 L477.30,409.03 L477.50,409.20 L477.80,409.41 L478.10,409.63 L478.40,409.80 L478.80,409.97 L479.50,410.13 L480.50,410.28 L481.70,410.44 L482.50,410.60 L483.30,410.77 L486.30,410.61 L488.00,410.46 L489.80,410.43 L491.10,410.58 L493.60,410.73 L496.60,410.58 L497.60,410.43 L497.80,410.40 L501.70,410.24 L503.10,410.09 L504.00,409.93 L504.60,409.77 L505.20,409.60 L505.80,409.45 L506.70,409.39 L508.30,409.49 L510.30,409.66 L510.90,409.82 L511.60,409.97 L512.30,410.14 L513.00,410.31 L513.80,410.48 L515.20,410.32 L515.80,410.24 L516.80,410.41 L517.80,410.57 L518.70,410.40 L519.60,410.24 L519.80,410.20 L521.40,410.36 L523.20,410.51 L525.20,410.36 L525.80,410.27 L528.10,410.44 L528.60,410.60 L529.10,410.77 L529.60,410.93 L530.50,410.77 L531.00,410.61 L531.50,410.45 L533.80,410.35 L537.80,410.50 L539.80,410.49 L541.30,410.64 L545.20,410.49 L545.80,410.41 L549.30,410.26 L551.80,410.19 L553.80,410.35 L554.80,410.50 L555.80,410.65 L557.80,410.52 L560.60,410.67 L563.30,410.52 L563.80,410.46 L564.50,410.63 L565.20,410.79 L566.90,410.63 L567.50,410.47 L569.80,410.37 L572.50,410.52 L573.50,410.68 L575.40,410.52 L577.40,410.37 L577.80,410.35 L579.10,410.50 L580.80,410.66 L583.60,410.50 L585.80,410.45 L586.90,410.60 L593.30,410.43 L593.80,410.34 L595.30,410.50 L598.80,410.35 L599.50,410.20 L599.80,410.13 L600.30,410.29 L600.80,410.44 L601.30,410.59 L601.80,410.75 L603.20,410.59 L603.50,410.55" stroke="#EC1220"/>
<path d="M49.80,430.07 L50.70,429.92 L51.60,429.77 L51.80,429.73 L53.80,429.88 L56.10,430.04 L57.60,430.20 L59.40,430.04 L60.70,429.89 L61.80,429.75 L62.90,429.91 L65.80,429.82 L66.70,429.98 L67.60,430.15 L69.50,429.99 L69.80,429.96 L70.80,430.11 L71.80,430.26 L72.90,430.11 L74.20,429.95 L77.10,429.80 L77.80,429.78 L79.70,429.93 L82.20,430.08 L87.10,429.93 L87.80,429.88 L89.50,430.04 L91.10,429.87 L91.80,429.77 L92.90,429.93 L95.80,429.86 L96.80,430.02 L97.80,430.18 L100.40,430.03 L102.00,429.87 L102.80,429.70 L103.40,429.53 L103.80,429.37 L104.20,429.18 L104.40,429.00 L104.50,428.88 L104.60,428.73 L104.70,428.54 L104.80,428.32 L104.90,428.06 L105.00,427.75 L105.10,427.39 L105.20,426.99 L105.30,426.53 L105.40,426.04 L105.50,425.50 L105.60,424.94 L105.70,424.36 L105.80,423.80 L105.90,423.25 L106.00,422.78 L106.10,422.40 L106.20,422.16 L106.30,422.08 L106.40,422.16 L106.50,422.40 L106.60,422.77 L106.70,423.24 L106.80,423.78 L106.90,424.36 L107.00,424.94 L107.10,425.52 L107.20,426.06 L107.30,426.57 L107.40,427.04 L107.50,427.45 L107.60,427.82 L107.70,428.14 L107.80,428.41 L107.90,428.64 L108.00,428.83 L108.10,428.98 L108.20,429.11 L108.40,429.30 L108.70,429.47 L109.40,429.63 L111.30,429.78 L112.60,429.94 L113.60,430.10 L115.40,429.95 L115.80,429.90 L118.00,430.06 L121.20,429.89 L121.80,429.76 L122.50,429.94 L123.20,430.11 L127.30,429.96 L131.80,429.81 L132.80,429.97 L133.80,430.14 L134.40,429.98 L135.00,429.82 L135.60,429.66 L135.80,429.61 L136.40,429.77 L137.00,429.93 L137.60,430.08 L141.20,429.93 L141.80,429.89 L148.80,430.05 L151.70,429.89 L151.80,429.87 L152.90,430.03 L157.80,429.96 L161.80,429.92 L165.70,430.07 L167.20,430.22 L169.30,430.07 L171.80,429.98 L177.80,429.83 L178.50,429.99 L179.20,430.14 L181.30,429.99 L181.80,429.90 L185.80,429.85 L188.60,429.68 L189.00,429.49 L189.40,429.39 L189.90,429.57 L190.20,429.76 L190.50,429.95 L190.80,430.10 L191.30,430.27 L193.80,430.12 L198.10,429.97 L199.80,429.84 L201.00,430.00 L203.80,429.98 L204.80,430.15 L205.80,430.31 L206.70,430.15 L207.60,429.99 L209.90,429.84 L211.80,429.72 L214.60,429.88 L215.50,430.04 L219.30,429.88 L221.80,429.77 L222.90,429.92 L225.80,429.95 L233.00,429.79 L233.80,429.74 L234.90,429.89 L237.80,430.01 L245.80,429.92 L247.70,430.08 L248.60,429.92 L249.40,429.75 L249.80,429.67 L250.50,429.82 L251.20,429.97 L253.80,429.99 L255.80,430.15 L258.80,429.99 L259.80,429.85 L262.20,430.00 L265.80,429.89 L269.80,429.86 L271.80,430.02 L274.10,429.86 L275.00,429.69 L275.60,429.51 L276.00,429.33 L276.30,429.17 L276.60,428.96 L276.80,428.81 L277.00,428.64 L277.20,428.46 L277.40,428.27 L277.60,428.10 L277.80,427.94 L278.10,427.77 L278.30,427.73 L278.90,427.94 L279.20,428.16 L279.40,428.32 L279.60,428.48 L279.90,428.73 L280.10,428.91 L280.30,429.08 L280.60,429.29 L280.90,429.47 L281.20,429.63 L281.60,429.80 L285.50,429.64 L286.30,429.48 L286.80,429.30 L287.10,429.14 L287.40,428.95 L287.60,428.80 L287.80,428.63 L288.00,428.46 L288.20,428.28 L288.40,428.11 L288.70,427.92 L289.00,427.85 L289.50,428.01 L289.80,428.23 L290.00,428.43 L290.20,428.63 L290.40,428.82 L290.60,429.00 L290.80,429.16 L291.10,429.37 L291.40,429.55 L291.80,429.73 L292.70,429.88 L295.00,429.71 L295.80,429.54 L296.80,429.71 L299.90,429.56 L300.20,429.37 L300.40,429.22 L300.60,429.03 L300.70,428.93 L300.80,428.82 L300.90,428.72 L301.10,428.52 L301.30,428.37 L301.50,428.29 L302.00,428.52 L302.20,428.70 L302.40,428.87 L302.70,429.08 L303.70,428.97 L303.80,428.86 L303.90,428.74 L304.00,428.59 L304.10,428.42 L304.20,428.21 L304.30,427.98 L304.40,427.72 L304.50,427.44 L304.60,427.14 L304.70,426.84 L304.80,426.53 L304.90,426.24 L305.00,425.98 L305.10,425.78 L305.30,425.62 L305.40,425.68 L305.50,425.84 L305.60,426.07 L305.70,426.36 L305.80,426.68 L305.90,426.99 L306.00,427.31 L306.10,427.62 L306.20,427.91 L306.30,428.18 L306.40,428.42 L306.50,428.64 L306.60,428.83 L306.70,428.99 L306.80,429.13 L307.00,429.35 L307.30,429.55 L307.90,429.73 L308.60,429.89 L309.70,430.04 L312.90,429.89 L313.80,429.73 L314.40,429.88 L315.00,430.04 L315.60,430.19 L317.60,430.03 L319.80,429.94 L321.60,430.10 L323.10,430.25 L324.80,430.10 L325.50,429.94 L325.80,429.87 L329.50,430.02 L330.90,429.87 L331.80,429.72 L334.40,429.88 L336.30,430.03 L339.80,430.07 L345.70,429.92 L345.80,429.91 L350.70,429.75 L351.40,429.59 L351.90,429.42 L352.40,429.26 L353.10,429.11 L353.20,429.11 L353.80,429.26 L354.20,429.41 L354.60,429.58 L355.10,429.75 L355.80,429.91 L357.10,429.76 L357.80,429.63 L358.50,429.78 L359.30,429.94 L363.80,429.82 L364.70,429.98 L365.60,430.15 L371.80,430.10 L373.60,430.26 L374.60,430.09 L375.30,429.94 L375.80,429.82 L376.80,429.97 L377.80,430.12 L379.10,429.97 L379.80,429.89 L383.80,429.75 L384.50,429.92 L385.20,430.09 L386.10,430.24 L390.30,430.08 L391.70,429.92 L391.80,429.91 L395.80,429.83 L398.10,430.00 L399.30,430.16 L403.80,430.10 L407.80,429.97 L411.80,429.97 L415.80,429.89 L417.10,430.05 L419.80,429.94 L423.80,429.94 L425.10,430.09 L428.40,429.94 L429.30,429.78 L430.30,429.62 L431.20,429.46 L431.70,429.30 L432.20,429.14 L432.60,428.97 L432.90,428.81 L433.20,428.62 L433.50,428.42 L433.80,428.21 L434.00,428.04 L434.20,427.89 L434.50,427.70 L435.00,427.55 L435.60,427.71 L435.90,427.90 L436.20,428.13 L436.40,428.28 L436.60,428.44 L436.80,428.59 L437.10,428.80 L437.40,428.99 L437.70,429.15 L438.10,429.35 L438.50,429.50 L439.10,429.67 L440.00,429.84 L440.90,430.00 L443.80,429.91 L445.00,430.07 L447.60,429.92 L447.80,429.89 L457.80,429.82 L461.80,429.93 L465.00,430.08 L467.80,430.04 L470.70,429.88 L471.30,429.71 L471.90,429.56 L472.30,429.54 L473.30,429.70 L474.00,429.86 L475.20,430.01 L481.80,429.91 L483.80,430.06 L485.80,430.02 L487.80,430.18 L490.70,430.02 L491.80,429.90 L493.90,430.05 L497.80,429.98 L499.80,430.14 L501.20,429.97 L502.10,429.81 L502.70,429.64 L503.20,429.49 L503.70,429.32 L504.60,429.23 L505.70,429.41 L506.30,429.56 L506.90,429.72 L507.60,429.87 L509.80,429.81 L511.00,429.97 L512.80,429.82 L513.40,429.67 L513.80,429.56 L514.30,429.75 L514.80,429.93 L515.30,430.11 L515.80,430.30 L516.40,430.14 L517.00,429.99 L517.60,429.83 L517.80,429.78 L520.40,429.93 L523.80,429.78 L525.00,429.94 L529.90,429.79 L531.80,429.65 L532.50,429.81 L533.20,429.97 L534.20,430.12 L537.70,429.97 L537.80,429.96 L540.60,430.12 L543.80,430.06 L551.80,430.08 L559.20,429.93 L560.90,429.78 L561.80,429.69 L563.60,429.85 L566.30,430.01 L567.80,430.16 L569.30,430.00 L570.60,429.85 L571.80,429.70 L572.60,429.87 L573.40,430.03 L575.50,430.18 L582.50,430.03 L583.80,429.99 L585.20,430.15 L587.10,430.00 L587.80,429.88 L591.80,429.78 L595.80,429.90 L600.10,430.05 L603.30,429.89 L603.50,429.85" stroke="#333333"/>
</g>
<g stroke="#000" stroke-width="1.45" fill="none">
<rect x="49.1" y="46.9" width="554.9" height="408.3"/>
<line x1="49.00" y1="455.2" x2="49.00" y2="462.7"/><line x1="118.38" y1="455.2" x2="118.38" y2="459.7"/><line x1="187.75" y1="455.2" x2="187.75" y2="462.7"/><line x1="257.12" y1="455.2" x2="257.12" y2="459.7"/><line x1="326.50" y1="455.2" x2="326.50" y2="462.7"/><line x1="395.88" y1="455.2" x2="395.88" y2="459.7"/><line x1="465.25" y1="455.2" x2="465.25" y2="462.7"/><line x1="534.62" y1="455.2" x2="534.62" y2="459.7"/><line x1="604.00" y1="455.2" x2="604.00" y2="462.7"/>
</g>
<g font-size="17.5"><text x="49.00" y="482.3" text-anchor="middle">10</text><text x="187.75" y="482.3" text-anchor="middle">20</text><text x="326.50" y="482.3" text-anchor="middle">30</text><text x="465.25" y="482.3" text-anchor="middle">40</text><text x="604.00" y="482.3" text-anchor="middle">50</text></g>
<text transform="translate(299.8,514.8) scale(1,1.03)" font-size="21.4">2<tspan font-style="italic">θ</tspan>/(°)</text>
<text transform="translate(23,310.6) rotate(-90) scale(1,1.04)" font-size="21">Intensity/a.u.</text>
<text transform="translate(580.30,65.80) scale(1,1.04)" font-size="21" text-anchor="end">160</text><circle cx="586.10" cy="52.60" r="1.5" fill="none" stroke="#000" stroke-width="0.9"/><path transform="translate(588.30,65.80)" d="M11.3,-12.4 C10.2,-13.9 8.3,-14.6 6.2,-14.6 C2.9,-14.6 0.7,-11.4 0.7,-7.1 C0.7,-2.6 3.0,0.25 6.3,0.25 C8.6,0.25 10.4,-0.9 11.6,-2.7 M11.35,-14.7 L11.35,-10.6" fill="none" stroke="#000" stroke-width="1.15"/>
<text transform="translate(577.10,184.20) scale(1,1.04)" font-size="21" text-anchor="end">140</text><circle cx="582.90" cy="173.30" r="2.7" fill="none" stroke="#000" stroke-width="1"/><path transform="translate(586.90,184.20)" d="M11.3,-12.4 C10.2,-13.9 8.3,-14.6 6.2,-14.6 C2.9,-14.6 0.7,-11.4 0.7,-7.1 C0.7,-2.6 3.0,0.25 6.3,0.25 C8.6,0.25 10.4,-0.9 11.6,-2.7 M11.35,-14.7 L11.35,-10.6" fill="none" stroke="#000" stroke-width="1.15"/>
<text transform="translate(582.60,252.50) scale(1,1.04)" font-size="21" text-anchor="end">120</text><circle cx="588.20" cy="241.60" r="2.7" fill="none" stroke="#000" stroke-width="1"/><path transform="translate(592.20,252.50)" d="M11.3,-12.4 C10.2,-13.9 8.3,-14.6 6.2,-14.6 C2.9,-14.6 0.7,-11.4 0.7,-7.1 C0.7,-2.6 3.0,0.25 6.3,0.25 C8.6,0.25 10.4,-0.9 11.6,-2.7 M11.35,-14.7 L11.35,-10.6" fill="none" stroke="#000" stroke-width="1.15"/>
<text transform="translate(585.00,361.00) scale(1,1.04)" font-size="21" text-anchor="end">100</text><circle cx="590.20" cy="347.80" r="1.5" fill="none" stroke="#000" stroke-width="0.9"/><path transform="translate(591.90,361.00)" d="M11.3,-12.4 C10.2,-13.9 8.3,-14.6 6.2,-14.6 C2.9,-14.6 0.7,-11.4 0.7,-7.1 C0.7,-2.6 3.0,0.25 6.3,0.25 C8.6,0.25 10.4,-0.9 11.6,-2.7 M11.35,-14.7 L11.35,-10.6" fill="none" stroke="#000" stroke-width="1.15"/>
<text transform="translate(580.30,403.60) scale(1,1.04)" font-size="21" text-anchor="end">80</text><circle cx="585.80" cy="390.10" r="1.5" fill="none" stroke="#000" stroke-width="0.9"/><path transform="translate(587.60,403.30)" d="M11.3,-12.4 C10.2,-13.9 8.3,-14.6 6.2,-14.6 C2.9,-14.6 0.7,-11.4 0.7,-7.1 C0.7,-2.6 3.0,0.25 6.3,0.25 C8.6,0.25 10.4,-0.9 11.6,-2.7 M11.35,-14.7 L11.35,-10.6" fill="none" stroke="#000" stroke-width="1.15"/>
<text transform="translate(580.30,428.60) scale(1,1.04)" font-size="21" text-anchor="end">60</text><circle cx="587.20" cy="415.40" r="1.5" fill="none" stroke="#000" stroke-width="0.9"/><path transform="translate(589.00,428.60)" d="M11.3,-12.4 C10.2,-13.9 8.3,-14.6 6.2,-14.6 C2.9,-14.6 0.7,-11.4 0.7,-7.1 C0.7,-2.6 3.0,0.25 6.3,0.25 C8.6,0.25 10.4,-0.9 11.6,-2.7 M11.35,-14.7 L11.35,-10.6" fill="none" stroke="#000" stroke-width="1.15"/>
<text transform="translate(196.80,226.50) scale(1,1.04)" font-size="21">200</text>
<text transform="translate(482.50,224.40) scale(1,1.04)" font-size="21">400</text>
<text transform="translate(112.40,290.80) scale(1,1.04)" font-size="21">110</text>
<text transform="translate(312.00,317.70) scale(1,1.04)" font-size="21">220</text>
<!-- panel b -->
<text x="690.5" y="33" font-size="27">(b)</text>
<g stroke="#000" stroke-width="1.4" fill="none">
<rect x="687.4" y="47.3" width="503.3" height="405.3"/>
<line x1="687.40" y1="452.6" x2="687.40" y2="456.1"/><line x1="737.70" y1="452.6" x2="737.70" y2="459.6"/><line x1="788.00" y1="452.6" x2="788.00" y2="456.1"/><line x1="838.30" y1="452.6" x2="838.30" y2="459.6"/><line x1="888.60" y1="452.6" x2="888.60" y2="456.1"/><line x1="938.90" y1="452.6" x2="938.90" y2="459.6"/><line x1="989.20" y1="452.6" x2="989.20" y2="456.1"/><line x1="1039.50" y1="452.6" x2="1039.50" y2="459.6"/><line x1="1089.80" y1="452.6" x2="1089.80" y2="456.1"/><line x1="1140.10" y1="452.6" x2="1140.10" y2="459.6"/><line x1="1190.40" y1="452.6" x2="1190.40" y2="456.1"/><line x1="687.4" y1="421.42" x2="679.9" y2="421.42"/><line x1="687.4" y1="374.66" x2="683.9" y2="374.66"/><line x1="687.4" y1="327.89" x2="679.9" y2="327.89"/><line x1="687.4" y1="281.13" x2="683.9" y2="281.13"/><line x1="687.4" y1="234.36" x2="679.9" y2="234.36"/><line x1="687.4" y1="187.60" x2="683.9" y2="187.60"/><line x1="687.4" y1="140.83" x2="679.9" y2="140.83"/><line x1="687.4" y1="94.07" x2="683.9" y2="94.07"/><line x1="687.4" y1="47.30" x2="679.9" y2="47.30"/>
</g>
<g stroke="#000" stroke-width="0.8"><line x1="742.24" y1="87.63" x2="834.36" y2="224.97"/><line x1="844.10" y1="237.44" x2="933.50" y2="337.26"/><line x1="945.29" y1="347.91" x2="1033.41" y2="411.19"/><line x1="1045.91" y1="410.69" x2="1134.29" y2="339.51"/></g>
<g fill="#000"><rect x="733.50" y="76.80" width="9" height="9"/><rect x="834.10" y="226.80" width="9" height="9"/><rect x="934.50" y="338.90" width="9" height="9"/><rect x="1035.20" y="411.20" width="9" height="9"/><rect x="1136.00" y="330.00" width="9" height="9"/></g>
<g font-size="17.5"><text x="737.70" y="479.2" text-anchor="middle">80</text><text x="838.30" y="479.2" text-anchor="middle">100</text><text x="938.90" y="479.2" text-anchor="middle">120</text><text x="1039.50" y="479.2" text-anchor="middle">140</text><text x="1140.10" y="479.2" text-anchor="middle">160</text><text transform="translate(673.9,426.82) scale(0.985,1)" text-anchor="end">0.09</text><text transform="translate(673.9,333.29) scale(0.985,1)" text-anchor="end">0.12</text><text transform="translate(673.9,239.76) scale(0.985,1)" text-anchor="end">0.15</text><text transform="translate(673.9,146.23) scale(0.985,1)" text-anchor="end">0.18</text><text transform="translate(673.9,52.70) scale(0.985,1)" text-anchor="end">0.21</text></g>
<text transform="translate(632.2,296.5) rotate(-90) scale(1,1.04)" font-size="21">FWHM/(°)</text>
<text transform="translate(858.20,502.00) scale(1,1.04)" font-size="21" letter-spacing="0.2">Temperature/</text><circle cx="987.90" cy="488.80" r="1.5" fill="none" stroke="#000" stroke-width="0.9"/><path transform="translate(990.00,502.00)" d="M11.3,-12.4 C10.2,-13.9 8.3,-14.6 6.2,-14.6 C2.9,-14.6 0.7,-11.4 0.7,-7.1 C0.7,-2.6 3.0,0.25 6.3,0.25 C8.6,0.25 10.4,-0.9 11.6,-2.7 M11.35,-14.7 L11.35,-10.6" fill="none" stroke="#000" stroke-width="1.15"/>
</svg>
</body></html>
